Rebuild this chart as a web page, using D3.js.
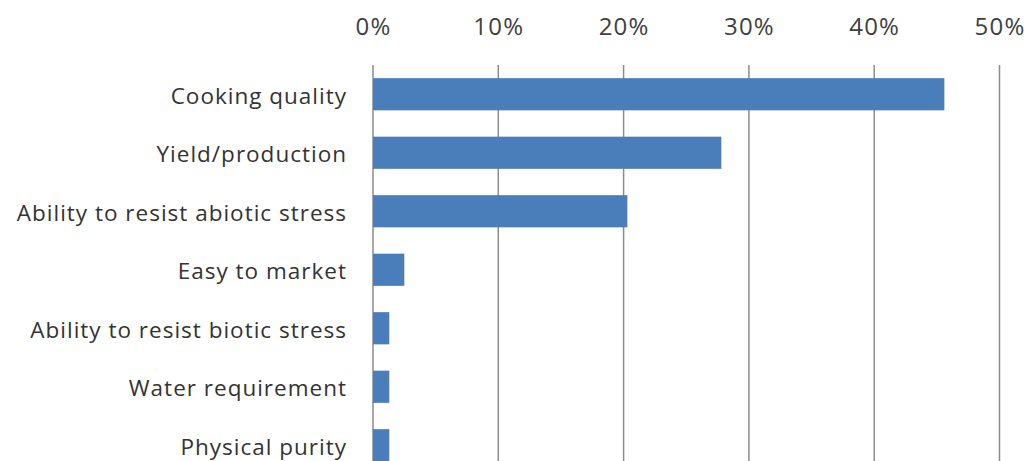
<!DOCTYPE html>
<html>
<head>
<meta charset="utf-8">
<script src="https://cdn.jsdelivr.net/npm/d3@7"></script>
<style>
  html, body { margin: 0; padding: 0; background: #fff; }
  svg { display: block; font-family: "Open Sans", "Noto Sans", sans-serif; }
</style>
</head>
<body>
<svg id="chart" width="1027" height="461"></svg>
<script>
// Reasons given for preferring a variety (share of respondents)
const categories = [
  "Cooking quality",
  "Yield/production",
  "Ability to resist abiotic stress",
  "Easy to market",
  "Ability to resist biotic stress",
  "Water requirement",
  "Physical purity"
];
const shares = [45.6, 27.8, 20.3, 2.5, 1.3, 1.3, 1.3];
const tickValues = [0, 10, 20, 30, 40, 50];

const width = 1027, height = 461;
const margin = { top: 65, right: 27.5, left: 373 };
// The last row runs past the bottom edge of the canvas.
const plotHeight = 409.5;

const svg = d3.select("#chart");

const x = d3.scaleLinear()
  .domain([0, 50])
  .range([margin.left, width - margin.right]);

const y = d3.scaleBand()
  .domain(categories)
  .range([margin.top, margin.top + plotHeight])
  .paddingInner(0.45)
  .paddingOuter(0.225);

// vertical gridlines
svg.append("g")
  .selectAll("line")
  .data(tickValues)
  .join("line")
  .attr("x1", d => x(d))
  .attr("x2", d => x(d))
  .attr("y1", margin.top)
  .attr("y2", margin.top + plotHeight)
  .attr("stroke", "#8c8c8c")
  .attr("stroke-width", 1.5);

// top axis labels
const xAxis = d3.axisTop(x)
  .tickValues(tickValues)
  .tickFormat(d => d + "%")
  .tickSize(0)
  .tickPadding(0);

svg.append("g")
  .attr("transform", `translate(0, 35)`)
  .call(xAxis)
  .call(g => g.select(".domain").remove())
  .call(g => g.selectAll("text")
    .attr("font-family", "'Open Sans', 'Noto Sans', sans-serif")
    .attr("font-size", 24)
    .attr("letter-spacing", 1.2)
    .attr("fill", "#404040"));

// bars
svg.append("g")
  .selectAll("rect")
  .data(categories)
  .join("rect")
  .attr("x", x(0))
  .attr("y", d => y(d))
  .attr("width", (d, i) => x(shares[i]) - x(0))
  .attr("height", y.bandwidth())
  .attr("fill", "#4a7ebb");

// category labels
const yAxis = d3.axisLeft(y).tickSize(0).tickPadding(26);
svg.append("g")
  .attr("transform", `translate(${margin.left}, 0)`)
  .call(yAxis)
  .call(g => g.select(".domain").remove())
  .call(g => g.selectAll("text")
    .attr("font-family", "'Open Sans', 'Noto Sans', sans-serif")
    .attr("font-size", 22.5)
    .attr("letter-spacing", 1)
    .attr("dy", "0.42em")
    .attr("fill", "#333333"));
</script>
</body>
</html>
